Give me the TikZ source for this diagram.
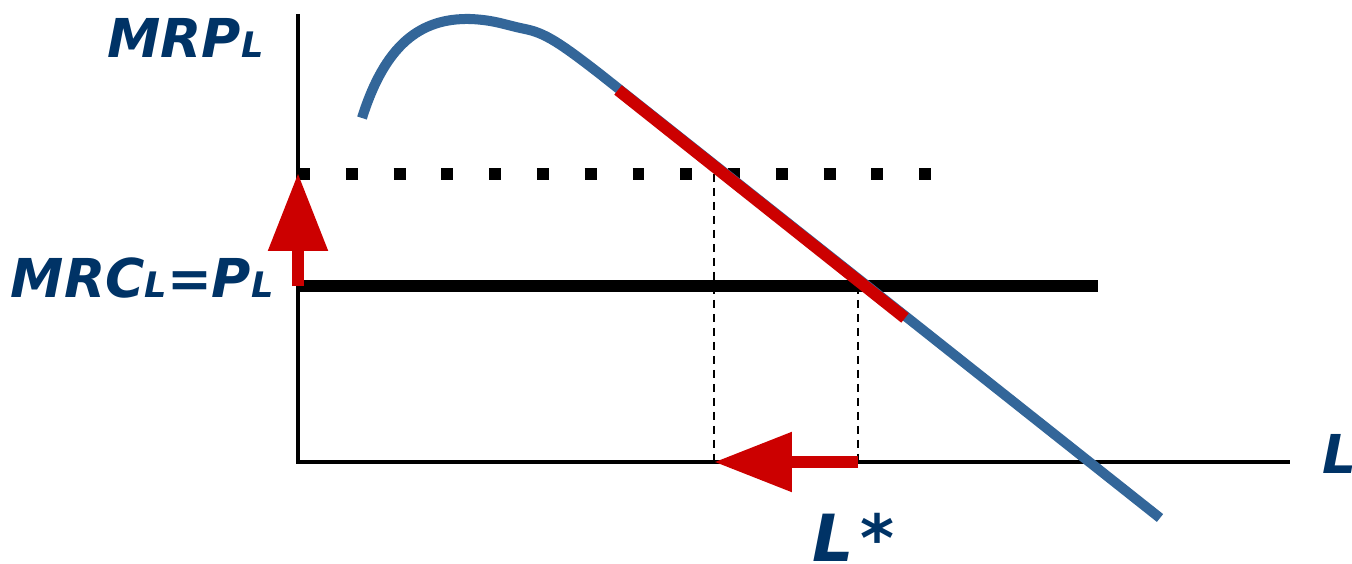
\documentclass[tikz,border=0pt]{standalone}
\usepackage{fontspec}
\setmainfont{DejaVu Sans}
\usetikzlibrary{arrows.meta}
\usepackage{xcolor}

\definecolor{labelblue}{RGB}{0,51,102}
\definecolor{curveblue}{RGB}{51,102,153}
\definecolor{shiftred}{RGB}{204,0,0}

\newcommand{\smallL}{{\fontsize{20}{22}\selectfont L}}

\begin{document}
\begin{tikzpicture}[
        x=0.02cm, y=-0.02cm,
        axis/.style={line width=2.8pt, draw=black},
        costline/.style={line width=6.6pt, draw=black},
        dotline/.style={line width=6.8pt, draw=black, dash pattern=on 6.8pt off 20.4pt},
        guide/.style={line width=1.1pt, draw=black, dash pattern=on 0.16cm off 0.12cm},
        demand/.style={line width=5.7pt, draw=curveblue},
        segment/.style={line width=6.8pt, draw=shiftred},
        shiftarrow/.style={-{Triangle[length=1.56cm, width=1.14cm]}, line width=6.8pt, draw=shiftred, fill=shiftred},
        lbl/.style={inner sep=0pt, text=labelblue, font=\fontsize{30.5}{36}\selectfont\bfseries\itshape}
    ]

    \useasboundingbox (0,0) rectangle (1352,564);

    \coordinate (origin) at (298,462);
    \coordinate (ytop) at (298,14);
    \coordinate (xend) at (1290,462);
    \coordinate (dotstart) at (298,174);
    \coordinate (dotend) at (934,174);
    \coordinate (wage) at (298,286);
    \coordinate (wageend) at (1098,286);
    \coordinate (newwage) at (298,173);
    \coordinate (hiretop) at (714,174);
    \coordinate (hirebase) at (714,462);
    \coordinate (optimum) at (858,286);
    \coordinate (optbase) at (858,462);
    \coordinate (redstart) at (618,90);
    \coordinate (redend) at (905,318);

    \draw[axis] (ytop) -- (origin) -- (xend);
    \draw[dotline] (dotstart) -- (dotend);
    \draw[costline] (wage) -- (wageend);
    \draw[guide] (hiretop) -- (hirebase);
    \draw[guide] (optimum) -- (optbase);

    \draw[demand] (362,118) .. controls (385,45) and (420,18) .. (470,19)
        .. controls (495,20) and (505,25) .. (525,29)
        .. controls (545,33) and (560,43) .. (600,74) -- (1160,518);
    \draw[segment] (redstart) -- (redend);

    \draw[shiftarrow] (wage) -- (newwage);
    \draw[shiftarrow] (optbase) -- (hirebase);

    \node[lbl, anchor=base east] (mrp) at (264,58) {MRP\smallL};
    \node[lbl, anchor=base east] (mrc) at (274,297) {MRC\smallL=P\smallL};
    \node[lbl, anchor=base west] (lax) at (1322,473) {L};
    \node[lbl, anchor=base west, font=\fontsize{37}{40}\selectfont\bfseries\itshape] (lstar) at (812,561) {L\kern0.1em*};

\end{tikzpicture}
\end{document}
